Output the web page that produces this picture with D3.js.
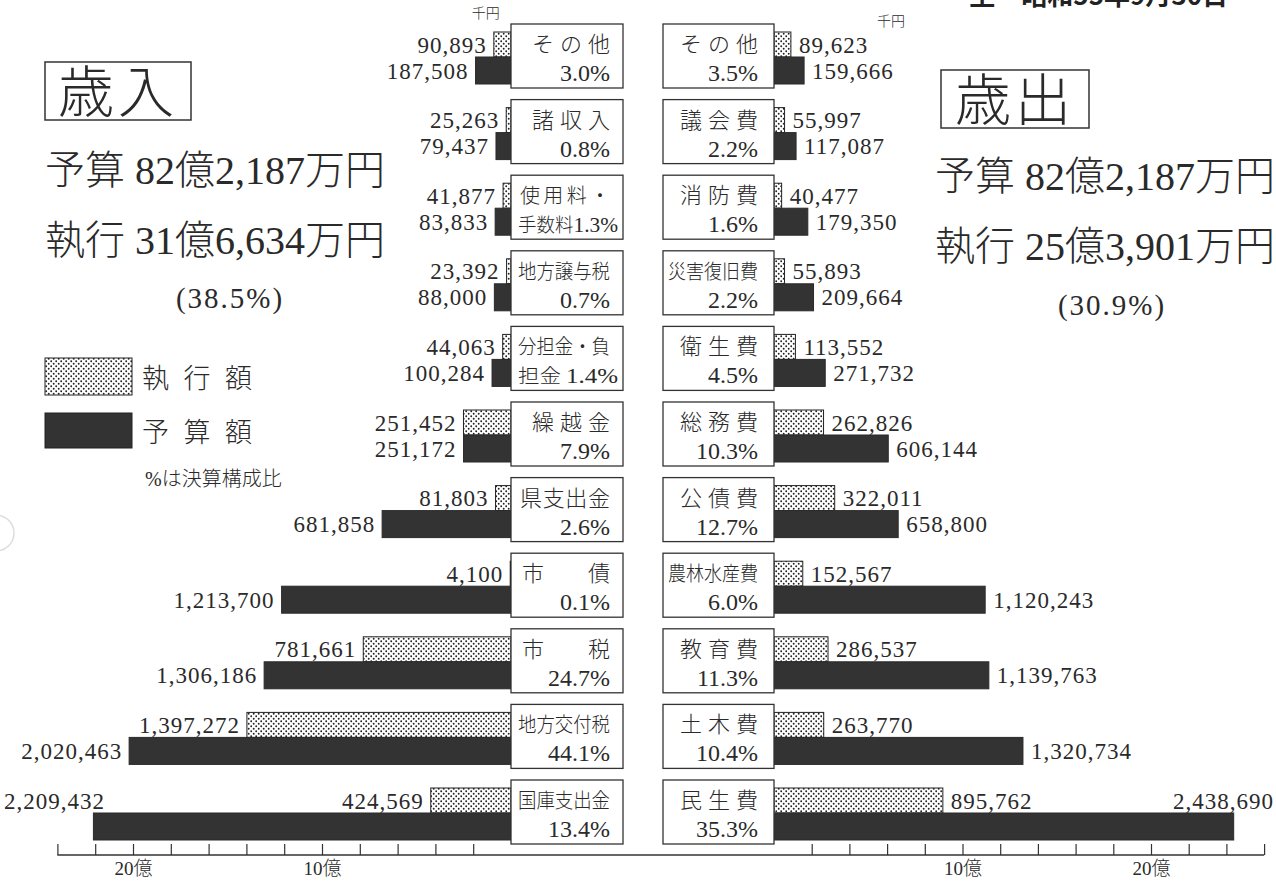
<!DOCTYPE html>
<html><head><meta charset="utf-8">
<script src="https://cdn.jsdelivr.net/npm/d3@7/dist/d3.min.js"></script>
<style>body{margin:0;background:#fff}svg{display:block}</style>
</head><body>
<svg id="c" width="1276" height="882"></svg>
<script>
// ---- data (千円) ----
const revLine1   = ["その他","諸収入","使用料・","地方譲与税","分担金・負","繰越金","県支出金","市　　債","市　　税","地方交付税","国庫支出金"];
const revPrefix2 = ["","","手数料","","担金 ","","","","","",""];
const revShare   = ["3.0","0.8","1.3","0.7","1.4","7.9","2.6","0.1","24.7","44.1","13.4"];
const revExec    = [90893,25263,41877,23392,44063,251452,81803,4100,781661,1397272,424569];
const revBudget  = [187508,79437,83833,88000,100284,251172,681858,1213700,1306186,2020463,2209432];

const expLine1   = ["その他","議会費","消防費","災害復旧費","衛生費","総務費","公債費","農林水産費","教育費","土木費","民生費"];
const expShare   = ["3.5","2.2","1.6","2.2","4.5","10.3","12.7","6.0","11.3","10.4","35.3"];
const expExec    = [89623,55997,40477,55893,113552,262826,322011,152567,286537,263770,895762];
const expBudget  = [159666,117087,179350,209664,271732,606144,658800,1120243,1139763,1320734,2438690];

const axisTicks  = [200000,400000,600000,800000,1000000,1200000,1400000,1600000,1800000,2000000,2200000,2400000,2600000];
const axisLabels = {1000000:"10億",2000000:"20億"};

const revTitle = "歳入", expTitle = "歳出";
const revSummary = ["予算 82億2,187万円","執行 31億6,634万円","(38.5%)"];
const expSummary = ["予算 82億2,187万円","執行 25億3,901万円","(30.9%)"];
const legendLabels = ["執行額","予算額"];
const header = "至　昭和55年9月30日";

// ---- setup ----
const svg = d3.select("#c");
const INK = "#2a2a2a";
const numFont = "'Liberation Serif','Noto Sans CJK JP',serif";
const jpFont = "'Noto Sans CJK JP',sans-serif";
const fmt = d3.format(",");

const defs = svg.append("defs");
const pat = defs.append("pattern").attr("id","dots").attr("patternUnits","userSpaceOnUse").attr("width",5).attr("height",5);
pat.append("rect").attr("width",5).attr("height",5).attr("fill","#fff");
pat.append("circle").attr("cx",1.2).attr("cy",1.2).attr("r",0.95).attr("fill","#222");
pat.append("circle").attr("cx",3.7).attr("cy",3.7).attr("r",0.95).attr("fill","#222");

const yRow = d3.scaleLinear().domain([0,10]).range([24,780]);
const boxH = 64;
const leftBox = {x0:511, x1:623};
const rightBox = {x0:663, x1:774};
const xL = d3.scaleLinear().domain([0,2400000]).range([leftBox.x0, leftBox.x0 - 24*18.9]);
const xR = d3.scaleLinear().domain([0,2600000]).range([rightBox.x1, rightBox.x1 + 26*18.85]);

function drawSide(side){
  const isL = side === "L";
  const x = isL ? xL : xR;
  const box = isL ? leftBox : rightBox;
  const line1 = isL ? revLine1 : expLine1;
  const share = isL ? revShare : expShare;
  const pre = isL ? revPrefix2 : line1.map(()=> "");
  const ex = isL ? revExec : expExec;
  const bu = isL ? revBudget : expBudget;
  const g = svg.append("g");
  line1.forEach((lab,i)=>{
    const top = yRow(i);
    const r = g.append("g");
    const eTop = top+8, eH = 25, bTop = top+33, bH = 27;
    const ex0 = x(0), ex1 = x(ex[i]), bx1 = x(bu[i]);
    r.append("rect").attr("x",Math.min(ex0,ex1)).attr("y",eTop).attr("width",Math.abs(ex1-ex0)).attr("height",eH)
      .attr("fill","url(#dots)").attr("stroke","#222").attr("stroke-width",1);
    r.append("rect").attr("x",Math.min(ex0,bx1)).attr("y",bTop).attr("width",Math.abs(bx1-ex0)).attr("height",bH)
      .attr("fill","#333").attr("stroke","#2a2a2a").attr("stroke-width",1);
    r.append("rect").attr("x",box.x0).attr("y",top).attr("width",box.x1-box.x0).attr("height",boxH)
      .attr("fill","#fff").attr("stroke","#333").attr("stroke-width",1.3);
    const tx = box.x1 - (isL?13:16);
    const n = [...lab].length;
    const small = n>=5 || pre[i];
    const t1 = r.append("text").attr("x",tx).attr("y",top+28).attr("text-anchor","end")
      .attr("font-family",jpFont).attr("font-weight",300).attr("font-size", small?20:22).attr("fill",INK).text(lab);
    if (n===3) t1.attr("textLength",78).attr("lengthAdjust","spacing");
    if (n===4 && lab.indexOf("　")<0) t1.attr("textLength",90).attr("lengthAdjust","spacing");
    if (n===5) t1.attr("textLength",isL?92:90).attr("lengthAdjust","spacingAndGlyphs");
    const t2 = r.append("text").attr("y",top+57)
      .attr("font-family",numFont).attr("font-size",24).attr("fill",INK);
    if (pre[i]){
      t2.attr("x",box.x0+7).attr("text-anchor","start").attr("textLength",box.x1-box.x0-12).attr("lengthAdjust","spacingAndGlyphs");
      t2.append("tspan").attr("font-family",jpFont).attr("font-weight",300).attr("font-size",19).text(pre[i]);
      t2.append("tspan").attr("font-size",22).text(share[i]+"%");
    } else {
      t2.attr("x",tx).attr("text-anchor","end").text(share[i]+"%");
    }
    function valLabel(v, xe, yc, altY){
      const t = r.append("text").attr("font-family",numFont).attr("font-size",23).attr("letter-spacing",1)
        .attr("fill",INK).attr("y",yc).attr("dy","0.35em").text(fmt(v));
      const w = t.node().getComputedTextLength();
      if (isL){
        const px = xe - 7;
        if (px - w < 2){ t.attr("x",4).attr("y",altY).attr("text-anchor","start"); }
        else t.attr("x",px).attr("text-anchor","end");
      } else {
        const px = xe + 8;
        if (px + w > 1274){ t.attr("x",1274).attr("y",altY).attr("text-anchor","end"); }
        else t.attr("x",px).attr("text-anchor","start");
      }
    }
    valLabel(ex[i], ex1, eTop+eH/2, eTop+eH/2);
    valLabel(bu[i], bx1, bTop+bH/2, eTop+eH/2);
  });
}
drawSide("L");
drawSide("R");

// unit labels
svg.append("text").attr("x",xL(revExec[0])-8).attr("y",yRow(0)-6).attr("text-anchor","middle")
  .attr("font-family",jpFont).attr("font-weight",300).attr("font-size",14).attr("fill",INK).text("千円");
svg.append("text").attr("x",xR(expExec[0])+100).attr("y",yRow(0)+2).attr("text-anchor","middle")
  .attr("font-family",jpFont).attr("font-weight",300).attr("font-size",14).attr("fill",INK).text("千円");

// axis
const axisY = 855;
svg.append("line").attr("x1",xL(2400000)).attr("x2",xR(2600000)).attr("y1",axisY).attr("y2",axisY)
  .attr("stroke","#333").attr("stroke-width",1.5);
function axisFor(scale, vals){
  const a = d3.axisBottom(scale).tickValues(vals).tickSizeInner(-11).tickSizeOuter(0).tickPadding(7)
    .tickFormat(v=>axisLabels[v]||"");
  const g = svg.append("g").attr("transform",`translate(0,${axisY})`).call(a);
  g.select(".domain").remove();
  g.selectAll(".tick line").attr("stroke","#333").attr("stroke-width",1.2);
  g.selectAll(".tick text").attr("font-family",numFont).attr("font-weight",300).attr("font-size",19).attr("fill",INK);
}
axisFor(xL, axisTicks.filter(v=>v<=2400000));
axisFor(xR, axisTicks);

// titles
function titleBlock(cfg){
  svg.append("rect").attr("x",cfg.bx).attr("y",cfg.by).attr("width",cfg.bw).attr("height",cfg.bh)
    .attr("fill","none").attr("stroke","#333").attr("stroke-width",1.5);
  svg.append("text").attr("x",cfg.bx+cfg.bw/2).attr("y",cfg.by+cfg.bh/2).attr("dy","0.37em").attr("text-anchor","middle")
    .attr("font-family",jpFont).attr("font-weight",300).attr("font-size",56).attr("fill",INK)
    .attr("letter-spacing",4).text(cfg.title);
  [cfg.y1,cfg.y2].forEach((yy,k)=>{
    svg.append("text").attr("x",cfg.sx).attr("y",yy).attr("font-family",numFont).attr("font-weight",300)
      .attr("font-size",40).attr("fill",INK).text(cfg.s[k]);
  });
  svg.append("text").attr("x",cfg.px).attr("y",cfg.y3).attr("text-anchor","middle").attr("font-family",numFont)
    .attr("font-size",29).attr("letter-spacing",2).attr("fill",INK).text(cfg.s[2]);
}
titleBlock({bx:45,by:62,bw:146,bh:58,title:revTitle,s:revSummary,sx:45,y1:184,y2:254,px:230,y3:308});
titleBlock({bx:941,by:70,bw:148,bh:58,title:expTitle,s:expSummary,sx:935,y1:190,y2:260,px:1112,y3:315});

// legend
const leg = svg.append("g");
leg.append("rect").attr("x",45).attr("y",358).attr("width",87).attr("height",37).attr("fill","url(#dots)").attr("stroke","#222");
leg.append("rect").attr("x",45).attr("y",413).attr("width",87).attr("height",35).attr("fill","#333").attr("stroke","#222");
legendLabels.forEach((l,i)=>{
  leg.append("text").attr("x",142).attr("y",i?442:388).attr("font-family",jpFont).attr("font-weight",300)
    .attr("font-size",27).attr("fill",INK).attr("textLength",110).attr("lengthAdjust","spacing").text(l);
});
svg.append("text").attr("x",145).attr("y",486).attr("font-family",numFont).attr("font-weight",300)
  .attr("font-size",20).attr("fill",INK).text("%は決算構成比");

// header (cut at top, as in the scan)
svg.append("text").attr("x",1228).attr("y",5).attr("text-anchor","end").attr("font-family",jpFont).attr("font-weight",700)
  .attr("font-size",26).attr("fill","#222").text(header);

// punch hole
svg.append("circle").attr("cx",-4).attr("cy",533).attr("r",18).attr("fill","none").attr("stroke","#ddd").attr("stroke-width",1.5);
</script>
</body></html>
